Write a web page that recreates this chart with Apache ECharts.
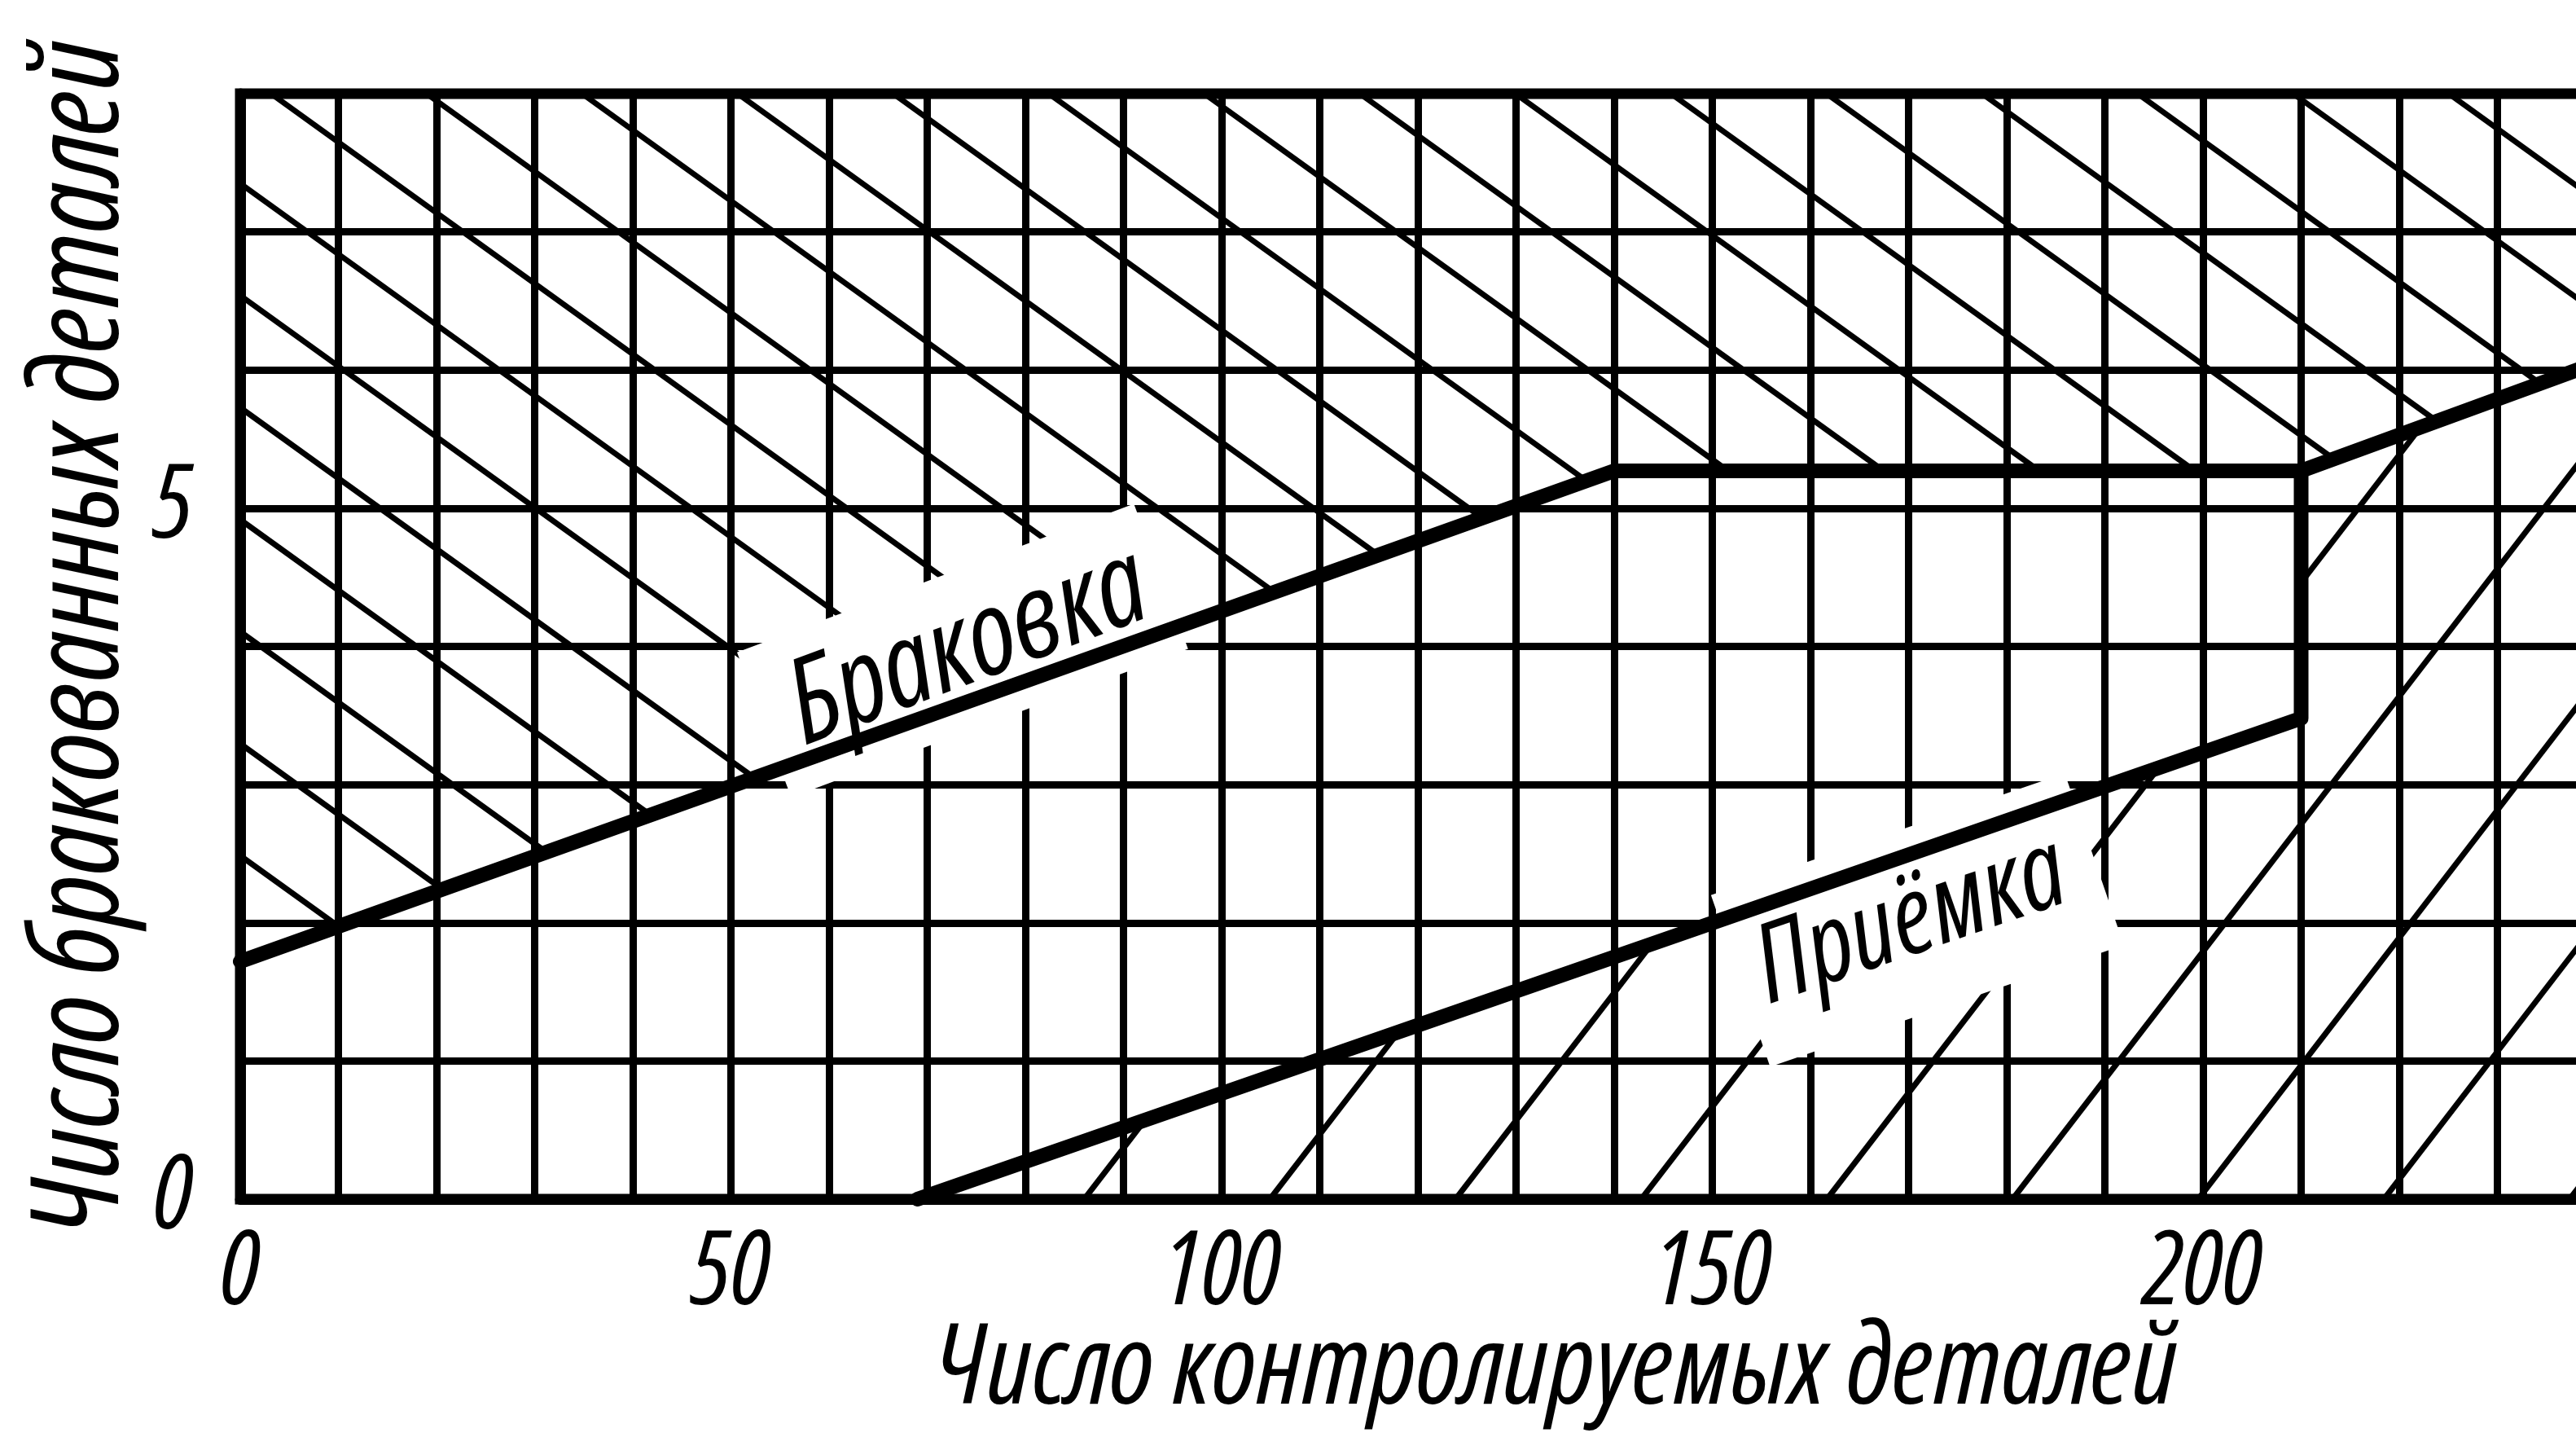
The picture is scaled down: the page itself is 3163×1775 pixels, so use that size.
<!DOCTYPE html>
<html>
<head>
<meta charset="utf-8">
<script src="https://cdn.jsdelivr.net/npm/echarts@6/dist/echarts.min.js"></script>
<style>
html,body{margin:0;padding:0;background:#fff;}
#chart{width:3163px;height:1775px;}
</style>
</head>
<body>
<div id="chart"></div>
<script>
// ---------------- data ----------------
const xTickLabels = ['0', '50', '100', '150', '200'];
const yTickLabels = ['0', '5'];
const xTitle = 'Число контролируемых деталей';
const yTitle = 'Число бракованных деталей';
const curveNames = ['Браковка', 'Приёмка'];
// rejection boundary ("Браковка")
const brakX = [0, 140, 210, 240];
const brakY = [1.72, 5.27, 5.27, 6.05];
// acceptance boundary ("Приёмка")
const priemX = [69, 210, 210];
const priemY = [0, 3.48, 5.27];
const X_MIN = 0, X_MAX = 240, Y_MIN = 0, Y_MAX = 8;

// ---------------- derived ----------------
const brakPts = brakX.map((x, i) => [x, brakY[i]]);
const priemPts = priemX.map((x, i) => [x, priemY[i]]);
const lastPriemX = priemX[priemX.length - 1];
const upperRegion = [[X_MIN, Y_MAX]].concat(brakPts).concat([[X_MAX, Y_MAX]]);
const lowerRegion = priemPts
  .concat(brakPts.filter(p => p[0] > lastPriemX))
  .concat([[X_MAX, Y_MIN]]);

const FONT = "'Open Sans', Roboto, 'DejaVu Sans Condensed', sans-serif";

// hatching drawn inside a region; the lines are computed in pixel space
function hatchSeries(region, dirPx, spacing, phasePoint, width) {
  return {
    type: 'custom',
    z: 2,
    silent: true,
    animation: false,
    data: [[X_MIN, Y_MIN]],
    renderItem: function (params, api) {
      const poly = region.map(p => api.coord(p));
      const len = Math.hypot(dirPx[0], dirPx[1]);
      const d = [dirPx[0] / len, dirPx[1] / len];
      const n = [-d[1], d[0]];
      const ph = api.coord(phasePoint);
      const c0 = n[0] * ph[0] + n[1] * ph[1];
      let mn = Infinity, mx = -Infinity;
      poly.forEach(p => {
        const v = n[0] * p[0] + n[1] * p[1];
        mn = Math.min(mn, v); mx = Math.max(mx, v);
      });
      const kMin = Math.ceil((mn - c0) / spacing);
      const kMax = Math.floor((mx - c0) / spacing);
      const children = [];
      for (let k = kMin; k <= kMax; k++) {
        const c = c0 + k * spacing;
        const ts = [];
        for (let i = 0; i < poly.length; i++) {
          const a = poly[i], b = poly[(i + 1) % poly.length];
          const sa = n[0] * a[0] + n[1] * a[1] - c;
          const sb = n[0] * b[0] + n[1] * b[1] - c;
          if ((sa > 0) !== (sb > 0)) {
            const t = sa / (sa - sb);
            const px = a[0] + t * (b[0] - a[0]);
            const py = a[1] + t * (b[1] - a[1]);
            ts.push(d[0] * px + d[1] * py);
          }
        }
        ts.sort((u, v) => u - v);
        for (let j = 0; j + 1 < ts.length; j += 2) {
          children.push({
            type: 'line',
            shape: {
              x1: n[0] * c + d[0] * ts[j], y1: n[1] * c + d[1] * ts[j],
              x2: n[0] * c + d[0] * ts[j + 1], y2: n[1] * c + d[1] * ts[j + 1]
            },
            style: { stroke: '#000', lineWidth: width }
          });
        }
      }
      return { type: 'group', children: children };
    }
  };
}

const textBase = { fontFamily: FONT, fontStyle: 'italic', fontWeight: 'condensed', color: '#000' };

const chart = echarts.init(document.getElementById('chart'), null, { renderer: 'canvas' });
chart.setOption({
  backgroundColor: '#fff',
  animation: false,
  grid: {
    show: true, borderColor: '#000', borderWidth: 13,
    left: 295, top: 115, right: -24, bottom: 303,
    containLabel: false, outerBoundsMode: 'none'
  },
  xAxis: {
    type: 'value', min: X_MIN, max: X_MAX, interval: 10,
    axisLine: { show: true, onZero: false, lineStyle: { color: '#000', width: 13 } },
    axisTick: { show: false },
    splitLine: { show: true, lineStyle: { color: '#000', width: 9 } },
    axisLabel: Object.assign({
      margin: 30, fontSize: 126,
      formatter: v => (xTickLabels.indexOf(String(v)) >= 0 ? String(v) : '')
    }, textBase),
    name: xTitle, nameLocation: 'middle', nameGap: 143, nameMoveOverlap: false,
    nameTextStyle: Object.assign({ fontSize: 137, padding: [0, 0, 0, 340] }, textBase)
  },
  yAxis: {
    type: 'value', min: Y_MIN, max: Y_MAX, interval: 1,
    axisLine: { show: true, onZero: false, lineStyle: { color: '#000', width: 13 } },
    axisTick: { show: false },
    splitLine: { show: true, lineStyle: { color: '#000', width: 9 } },
    axisLabel: Object.assign({
      margin: 58, fontSize: 126,
      formatter: v => (yTickLabels.indexOf(String(v)) >= 0 ? String(v) : '')
    }, textBase),
    name: yTitle, nameLocation: 'middle', nameGap: 118, nameMoveOverlap: false,
    nameTextStyle: Object.assign({ fontSize: 150, padding: [0, 0, 0, 22] }, textBase)
  },
  series: [
    hatchSeries(upperRegion, [1, 0.72], 111.6, [0, 7.35], 7),
    hatchSeries(lowerRegion, [1, -1.30], 180.7, [86, 0], 7),
    {
      type: 'scatter', z: 5, silent: true, animation: false,
      symbolSize: 1, itemStyle: { color: 'rgba(0,0,0,0)', opacity: 1 },
      label: Object.assign({
        show: true, position: 'inside', formatter: '{b}', fontSize: 145,
        backgroundColor: '#fff'
      }, textBase),
      data: [
        { name: curveNames[0], value: [73.6, 3.97], label: { rotate: 20.5, padding: [0, 22, 45, 40] } },
        { name: curveNames[1], value: [170.9, 2.02], label: { rotate: 19, fontSize: 134, padding: [85, 40, 4, 26] } }
      ]
    },
    {
      name: curveNames[0], type: 'line', z: 10, symbol: 'none', animation: false,
      data: brakPts,
      lineStyle: { color: '#000', width: 18, join: 'round', cap: 'round' }
    },
    {
      name: curveNames[1], type: 'line', z: 10, symbol: 'none', animation: false,
      data: priemPts,
      lineStyle: { color: '#000', width: 18, join: 'round', cap: 'round' }
    }
  ]
});
</script>
</body>
</html>
